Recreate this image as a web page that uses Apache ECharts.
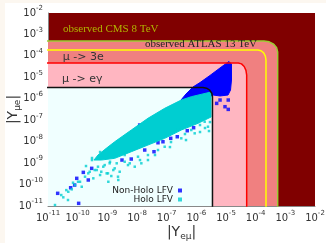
<!DOCTYPE html>
<html>
<head>
<meta charset="utf-8">
<style>
    html, body { margin: 0; padding: 0; background: #fcf7f0; }
    #main { position: absolute; left: 5px; top: 3px; width: 321px; height: 240px; background: #fff; }
</style>
</head>
<body>
<div id="main"></div>
<script src="https://cdn.jsdelivr.net/npm/echarts@6/dist/echarts.min.js"></script>
<script>
// decades shown on both axes
var tickExponents = [-11, -10, -9, -8, -7, -6, -5, -4, -3, -2];

// limit curves [|Y_eμ|, |Y_μe|] (rounded corners)
var cmsEdge = [[1e-12, 4.94e-4], [1.9e-4, 4.94e-4], [2.85e-4, 4.54e-4], [4.05e-4, 3.5e-4], [5.1e-4, 2.38e-4], [5.52e-4, 1.52e-4], [5.52e-4, 1e-12]];
var atlasEdge = [[1e-12, 1.88e-4], [1.2e-4, 1.88e-4], [1.52e-4, 1.73e-4], [1.86e-4, 1.38e-4], [2.12e-4, 9.7e-5], [2.23e-4, 6.4e-5], [2.23e-4, 1e-12]];
var mu3eEdge = [[1e-12, 4.66e-5], [2.6e-5, 4.66e-5], [3.33e-5, 4.23e-5], [4.1e-5, 3.2e-5], [4.71e-5, 2.1e-5], [4.98e-5, 1.28e-5], [4.98e-5, 1e-12]];
var megEdge = [[1e-12, 3.35e-6], [1.67e-6, 3.35e-6], [2.21e-6, 3.11e-6], [2.82e-6, 2.5e-6], [3.32e-6, 1.82e-6], [3.5e-6, 1.25e-6], [3.5e-6, 1e-12]];

// dense parts of the two point clouds (outline)
var nonHoloCore = [[1.26e-5, 5.47e-5], [1.53e-5, 4.18e-5], [1.53e-5, 7.5e-6], [1.42e-5, 2.57e-6], [1.17e-5, 1.5e-6], [6.3e-6, 1.35e-6], [3.64e-6, 1.5e-6], [9e-7, 5.1e-7], [3.04e-7, 8.75e-7], [4.48e-7, 1.67e-6], [7.7e-7, 3.54e-6], [1.33e-6, 5.7e-6], [2.88e-6, 1.22e-5], [7.3e-6, 3.2e-5]];
var holoCore = [[4.84e-10, 2.38e-9], [9.2e-10, 4.89e-9], [1.77e-9, 9.9e-9], [6.43e-9, 3.49e-8], [2.34e-8, 1.23e-7], [8.57e-8, 3.59e-7], [3.11e-7, 8.75e-7], [6.76e-7, 1.25e-6], [3.12e-6, 2.07e-6], [3.12e-6, 1.41e-7], [1.14e-6, 7.16e-8], [3.11e-7, 3.49e-8], [8.57e-8, 1.43e-8], [2.34e-8, 6.97e-9], [6.43e-9, 3.4e-9], [1.77e-9, 1.67e-9], [6.25e-10, 1.39e-9], [3.55e-10, 1.39e-9]];

// scattered points outside the dense parts
var nonHoloPoints = [[2.12e-11, 3.9e-11], [1.08e-10, 1.33e-11], [5.8e-11, 7.1e-11], [7.9e-11, 9.5e-11], [9.3e-11, 1.95e-10], [1.55e-10, 3.7e-10], [2.28e-10, 1.63e-10], [2.97e-10, 5.7e-10], [1.59e-9, 5.8e-9], [3.12e-9, 1.39e-9], [6.4e-9, 1.55e-9], [1.82e-8, 4.07e-9], [3.74e-8, 3.4e-9], [5.1e-8, 8.9e-9], [7.5e-8, 9.9e-9], [1.37e-7, 1.43e-8], [2.28e-7, 1.7e-8], [4.95e-7, 3.24e-8], [8.1e-7, 4.47e-8], [1.23e-8, 5.97e-8], [1.96e-6, 1.57e-7], [4.85e-6, 6.1e-7], [6.3e-6, 8.75e-7], [9.25e-6, 4.27e-7], [1.19e-5, 3.2e-7], [1.19e-5, 8.75e-7]];
var holoPoints = [[1.72e-11, 1.11e-11], [3.28e-11, 2.54e-11], [4.83e-11, 4.62e-11], [6.3e-11, 5.98e-11], [8.1e-11, 9.5e-11], [1.2e-10, 1.35e-10], [1.37e-10, 7.9e-11], [1.77e-10, 2.32e-10], [2.28e-10, 3.33e-10], [3.37e-10, 1.95e-10], [4.38e-10, 4.75e-10], [5.7e-10, 2.78e-10], [7.3e-10, 6.8e-10], [9.5e-10, 3.33e-10], [1.23e-9, 1.16e-9], [1.59e-9, 4.75e-10], [2.34e-9, 1.63e-10], [2.07e-9, 9.8e-10], [1.08e-9, 1.35e-10], [2.34e-8, 1.39e-9], [1.4e-8, 9.8e-10], [8.4e-9, 6.8e-10], [2.29e-9, 2.32e-10], [3.85e-9, 2.38e-9], [1.36e-9, 2.5e-10], [2.41e-7, 3.89e-8], [6.76e-7, 3.49e-8], [1.91e-6, 8.5e-8], [2.47e-6, 4.98e-8], [8.8e-7, 2.45e-8], [3.11e-7, 1.43e-8], [8.57e-8, 5.8e-9], [5.1e-8, 4.07e-9], [2.34e-8, 2.38e-9], [1.08e-8, 1.99e-9], [5.7e-9, 9.8e-10], [2.67e-6, 3.13e-8], [2.88e-6, 8.2e-8], [1.33e-6, 5.97e-8], [4.14e-7, 2.27e-8], [1.4e-7, 9.6e-9], [3.04e-10, 1.39e-9], [1.91e-10, 7.3e-10], [6.6e-10, 1.73e-9],
    [2.8e-11, 3.24e-11], [4.14e-11, 5.5e-11], [6.97e-11, 1.22e-10], [1.03e-10, 1.35e-10], [2.54e-10, 3.96e-10], [3.75e-10, 4.75e-10], [4.84e-10, 6.8e-10], [6.25e-10, 3.96e-10], [8.15e-10, 8.1e-10], [1.05e-9, 3.33e-10], [1.2e-9, 9.8e-10], [1.77e-9, 5.7e-10], [2.61e-9, 3.96e-10], [3.85e-9, 1.16e-9], [4.72e-11, 1.9e-11], [4.97e-9, 8.1e-10], [1.26e-8, 1.39e-9], [4.04e-8, 2.38e-9], [1.29e-7, 5.6e-9], [4.48e-7, 1.19e-8], [1.33e-6, 2.82e-8], [1.96e-6, 4.33e-8], [5.7e-10, 3.29e-9], [3.04e-10, 1.73e-9]];

var chart = echarts.init(document.getElementById('main'));

function area(points, color, z) {
    var shape = points.concat([[1e-12, 1e-12]]);
    return {
        type: 'custom',
        silent: true,
        clip: true,
        z: z,
        data: [points[0]],
        renderItem: function (params, api) {
            return {
                type: 'polygon',
                shape: { points: shape.map(function (p) { return api.coord(p); }) },
                style: { fill: color }
            };
        }
    };
}

function blob(points, color, z) {
    return {
        type: 'custom',
        silent: true,
        clip: true,
        z: z,
        data: [points[0]],
        renderItem: function (params, api) {
            return {
                type: 'polygon',
                shape: { points: points.map(function (p) { return api.coord(p); }) },
                style: { fill: color, stroke: color, lineWidth: 1 }
            };
        }
    };
}

function edge(points, color) {
    return {
        type: 'line',
        silent: true,
        z: 6,
        data: points,
        showSymbol: false,
        lineStyle: { color: color, width: 1.5 }
    };
}

function tickLabel(v) {
    var e = Math.round(Math.log10(v));
    if (tickExponents.indexOf(e) < 0) return '';
    return '{b|10}{s|' + e + '}';
}

var tickRich = {
    b: { fontSize: 10, fontFamily: 'DejaVu Sans', color: '#333', lineHeight: 16 },
    s: { fontSize: 7, fontFamily: 'DejaVu Sans', color: '#333', lineHeight: 8, verticalAlign: 'top' }
};

var nameRich = {
    b: { fontSize: 14, fontFamily: 'DejaVu Sans', color: '#333', lineHeight: 18 },
    sub: { fontSize: 9, fontFamily: 'DejaVu Sans', color: '#333', lineHeight: 10, verticalAlign: 'bottom' }
};

var textFont = '11px "Liberation Serif"';

chart.setOption({
    animation: false,
    grid: {
        left: 43, top: 10, right: 11, bottom: 37,
        outerBoundsMode: 'none',
        containLabel: false,
        show: true, backgroundColor: '#800000', borderWidth: 0
    },
    xAxis: {
        type: 'log', min: 1e-11, max: 1e-2, interval: 1,
        axisLine: { lineStyle: { color: '#888' } },
        axisTick: { show: false },
        splitLine: { show: false },
        axisLabel: { margin: 4, formatter: tickLabel, rich: tickRich },
        name: '{b||Y}{sub|eμ}{b||}',
        nameLocation: 'middle',
        nameGap: 17,
        nameMoveOverlap: false,
        nameTextStyle: { rich: nameRich }
    },
    yAxis: {
        type: 'log', min: 1e-11, max: 1e-2, interval: 1,
        axisLine: { lineStyle: { color: '#888' } },
        axisTick: { show: false },
        splitLine: { show: false },
        axisLabel: { margin: 5, formatter: tickLabel, rich: tickRich },
        name: '{b||Y}{sub|μe}{b||}',
        nameLocation: 'middle',
        nameGap: 26,
        nameRotate: 90,
        nameMoveOverlap: false,
        nameTextStyle: { rich: nameRich }
    },
    legend: {
        data: [
            { name: 'Non-Holo LFV', icon: 'rect', itemStyle: { color: '#0000ff' } },
            { name: 'Holo LFV', icon: 'rect', itemStyle: { color: '#00ced1' } }
        ],
        orient: 'vertical',
        align: 'right',
        right: 144,
        top: 183,
        padding: 0,
        itemGap: 0,
        itemWidth: 4,
        itemHeight: 4,
        textStyle: { fontSize: 9, fontFamily: 'DejaVu Sans', color: '#222', lineHeight: 9 }
    },
    graphic: [
        { type: 'text', z: 100, x: 58, y: 26, style: { text: 'observed CMS 8 TeV', font: textFont, fill: '#b0b400', verticalAlign: 'middle' } },
        { type: 'text', z: 100, x: 140, y: 40.7, style: { text: 'observed ATLAS 13 TeV', font: textFont, fill: '#222', verticalAlign: 'middle' } },
        { type: 'text', z: 100, x: 57.7, y: 54.3, style: { text: 'μ -> 3e', font: '11px "DejaVu Sans"', fill: '#333', verticalAlign: 'middle' } },
        { type: 'text', z: 100, x: 57, y: 76.3, style: { text: 'μ -> eγ', font: '11px "DejaVu Sans"', fill: '#333', verticalAlign: 'middle' } }
    ],
    series: [
        area(cmsEdge, '#f08080', 1),
        area(mu3eEdge, '#ffb6c1', 1),
        area(megEdge, '#f0ffff', 1),
        blob(nonHoloCore, '#0000ff', 2),
        {
            type: 'scatter', name: 'Non-Holo LFV', z: 2,
            symbol: 'rect', symbolSize: 3.5,
            itemStyle: { color: '#0000ff' },
            data: nonHoloPoints
        },
        blob(holoCore, '#00ced1', 3),
        {
            type: 'scatter', name: 'Holo LFV', z: 3,
            symbol: 'rect', symbolSize: 2.5,
            itemStyle: { color: '#00ced1' },
            data: holoPoints
        },
        edge(cmsEdge, '#9acd32'),
        edge(atlasEdge, '#ffff00'),
        edge(mu3eEdge, '#ff0000'),
        edge(megEdge, '#111')
    ]
});

window.onresize = chart.resize;
</script>
</body>
</html>
